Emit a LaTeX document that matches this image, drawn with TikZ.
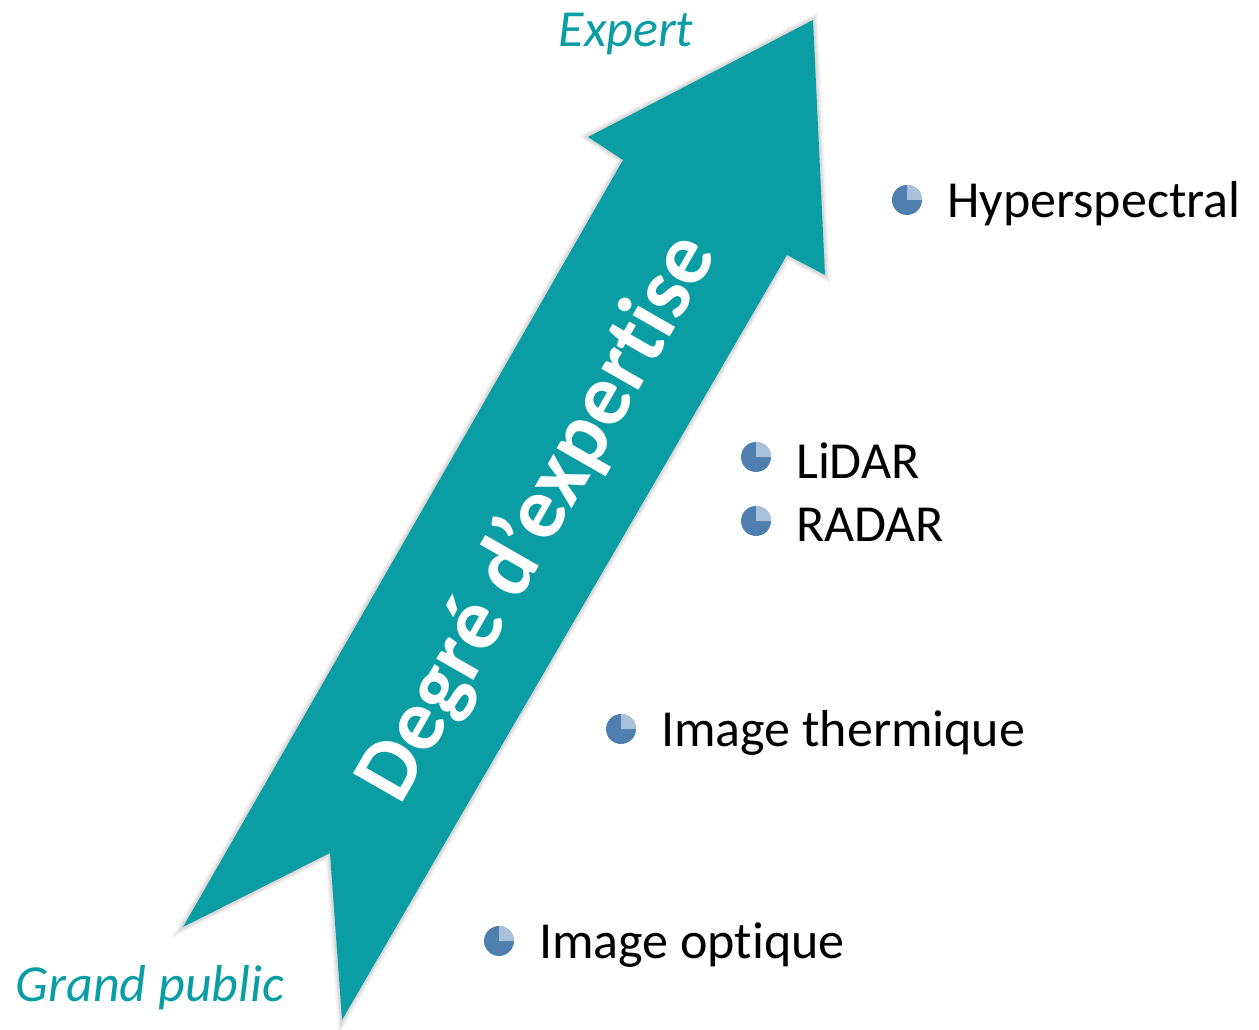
\documentclass[tikz,border=0pt]{standalone}
\usepackage{fontspec}
\setmainfont[Ligatures=NoCommon]{Carlito}
\definecolor{teal1}{HTML}{0A9DA4}
\definecolor{bulletblue}{HTML}{4F7FAF}
\definecolor{bulletlight}{HTML}{A9C1DA}
\begin{document}
\begin{tikzpicture}[x=1pt,y=-1pt,
  lbl/.style={anchor=west,font=\fontsize{52}{60}\selectfont,text=black,inner sep=0pt},
  endlbl/.style={font=\fontsize{52}{60}\selectfont\itshape,text=teal1,inner sep=0pt}]
\useasboundingbox (0,0) rectangle (1259,1030);
% shadow
\foreach \w/\o in {10/0.04,7/0.05,4/0.07}{
\draw[line width=\w,black,opacity=\o,line join=miter]
  (183,927) -- (623,160) -- (588,137) -- (813,20) -- (825,275) -- (787,255) -- (342,1020) -- (330,853) -- cycle;}
% arrow
\fill[teal1] (183,927) coordinate (tl) -- (623,160) -- (588,137) -- (813,20) coordinate (tip)
  -- (825,275) -- (787,255) -- (342,1020) coordinate (tr) -- (330,853) -- cycle;
\node[rotate=60.2,text=white,font=\fontsize{88}{100}\selectfont\bfseries,inner sep=0pt] (deg) at (538,518) {Degré d’expertise};
\node[endlbl] (expert) at (626,34) {Expert};
\node[endlbl] (grand) at (150,988) {Grand public};
% bullets
\foreach \n/\x/\y/\t in {hyp/907/200/Hyperspectral, lid/756/457/LiDAR, rad/756/521/RADAR, the/621/729/Image thermique, opt/499/941/Image optique}{
  \fill[bulletblue] (\x,\y) circle (15);
  \fill[bulletlight] (\x,\y) -- (\x,\y-15) arc[start angle=-90,end angle=0,radius=15] -- cycle;
  \node[lbl] (\n) at (\x+40,\y+4) {\t};
}
\end{tikzpicture}
\end{document}
